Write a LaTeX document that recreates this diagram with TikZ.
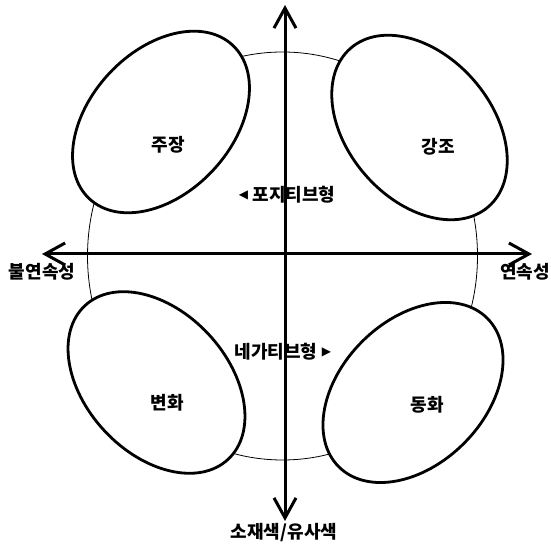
\documentclass[tikz,border=0pt]{standalone}
\usepackage{fontspec}
\newfontfamily\kr{Noto Sans CJK KR}
\newfontfamily\dv{DejaVu Sans}
\usetikzlibrary{arrows.meta}
\tikzset{
  axis/.style={line width=3pt, {Straight Barb[length=20pt,width=22pt]}-{Straight Barb[length=20pt,width=22pt]}},
  blob/.style={line width=2.8pt, fill=white},
  lbl/.style={font=\kr\bfseries\fontsize{18}{20}\selectfont, inner sep=0pt},
  tri/.style={font=\dv\fontsize{12}{14}\selectfont, inner sep=0pt}
}
\begin{document}
\begin{tikzpicture}[x=1pt,y=1pt]
\useasboundingbox[fill=white] (0,0) rectangle (551,545);
% big thin circle
\draw[line width=0.8pt] (282.5,289) ellipse [x radius=195, y radius=204];
% four ellipses
\draw[blob, rotate around={47:(161,423)}] (161,423) ellipse [x radius=105, y radius=71];
\draw[blob, rotate around={-49:(419.5,417.5)}] (419.5,417.5) ellipse [x radius=105, y radius=72];
\draw[blob, rotate around={-47:(156.5,162.5)}] (156.5,162.5) ellipse [x radius=105, y radius=71];
\draw[blob, rotate around={45:(413,152.5)}] (413,152.5) ellipse [x radius=105, y radius=72];
% labels in ellipses
\node[lbl] (zj) at (168,400) {주장};
\node[lbl] (gj) at (438,398) {강조};
\node[lbl] (bh) at (167,142) {변화};
\node[lbl] (dh) at (427,140) {동화};
% type labels
\node[lbl] (pos) at (294,350) {포지티브형};
\node[tri, anchor=east] (ptri) at ([xshift=-4pt]pos.west) {◀};
\node[lbl] (neg) at (276,193) {네가티브형};
\node[tri, anchor=west] (ntri) at ([xshift=4pt]neg.east) {▶};
% axes
\coordinate (top) at (285,540);
\coordinate (bot) at (285,24);
\coordinate (lft) at (42,291);
\coordinate (rgt) at (532,291);
\draw[axis] (bot) -- (top);
\draw[axis] (lft) -- (rgt);
% axis labels
\node[lbl] (bul) at (42,273) {불연속성};
\node[lbl] (yeon) at (525,273) {연속성};
\node[lbl] (so) at (284,12) {소재색/유사색};
\end{tikzpicture}
\end{document}
